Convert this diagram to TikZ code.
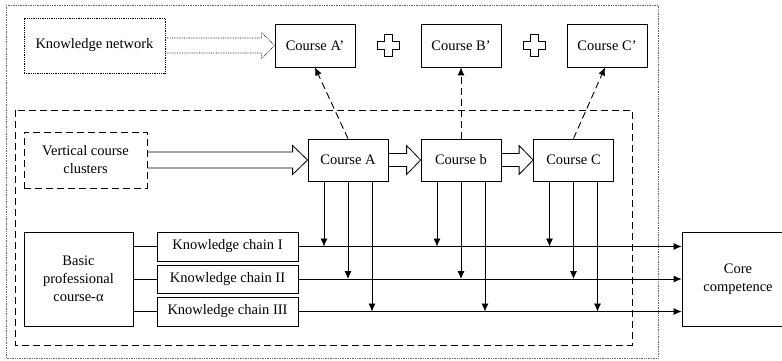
\documentclass[tikz,border=0pt]{standalone}
\usepackage{fontspec}
\setmainfont{Liberation Serif}
\usetikzlibrary{arrows.meta,calc}
\newcommand\hollowarr[6]{%
  \draw[#1] ($(#2.east)+(0,-#4)$) -- ($(#3.west)+(-#6,-#4)$) -- ($(#3.west)+(-#6,-#5)$)
    -- (#3.west) -- ($(#3.west)+(-#6,#5)$) -- ($(#3.west)+(-#6,#4)$) -- ($(#2.east)+(0,#4)$);}
\newcommand\plussign[1]{%
  \draw[line width=0.8pt] ($#1+(-4,-11)$) -- ++(8,0) -- ++(0,7) -- ++(7,0) -- ++(0,8) -- ++(-7,0)
    -- ++(0,7) -- ++(-8,0) -- ++(0,-7) -- ++(-7,0) -- ++(0,-8) -- ++(7,0) -- cycle;}
\begin{document}
\begin{tikzpicture}[x=1pt,y=-1pt,
  font=\fontsize{14.5}{18}\selectfont,
  box/.style={draw, line width=0.8pt, inner sep=0pt, align=center},
  dotbox/.style={box, densely dotted, line width=0.7pt},
  dashbox/.style={box, dash pattern=on 7pt off 4pt, line width=0.9pt},
  arr/.style={line width=0.8pt, -{Latex[length=8pt,width=7pt]}},
  darr/.style={line width=0.9pt, dash pattern=on 7pt off 4pt, -{Latex[length=8pt,width=7pt]}},
  ln/.style={line width=0.8pt}]
\useasboundingbox (0,0) rectangle (782,360);
% frames
\draw[densely dotted, line width=0.7pt, gray!80!black] (6,5) rectangle (658,358);
\draw[dash pattern=on 7pt off 4pt, line width=0.9pt] (15,110) rectangle (632,345);
% top row
\node[dotbox, minimum width=141pt, minimum height=55pt] (kn) at (94.5,45.5) {Knowledge network};
\node[box, minimum width=80pt, minimum height=43pt] (ca1) at (315,45.5) {Course A’};
\node[box, minimum width=80pt, minimum height=43pt] (cb1) at (461,45.5) {Course B’};
\node[box, minimum width=80pt, minimum height=43pt] (cc1) at (607,45.5) {Course C’};
\plussign{(388,45.5)}
\plussign{(534,45.5)}
% middle row
\node[dashbox, minimum width=123pt, minimum height=56pt] (vc) at (85.5,160) {Vertical course\\clusters};
\node[box, minimum width=80pt, minimum height=42pt] (ca) at (348,160) {Course A};
\node[box, minimum width=80pt, minimum height=42pt] (cb) at (461,160) {Course b};
\node[box, minimum width=80pt, minimum height=42pt] (cc) at (573.5,160) {Course C};
% bottom
\node[box, minimum width=109pt, minimum height=94pt] (bp) at (78.5,279) {Basic\\professional\\course-α};
\node[box, minimum width=141pt, minimum height=29pt] (k1) at (227.5,246.5) {Knowledge chain I};
\node[box, minimum width=141pt, minimum height=28pt] (k2) at (227.5,279) {Knowledge chain II};
\node[box, minimum width=141pt, minimum height=29pt] (k3) at (227.5,311.5) {Knowledge chain III};
\node[box, minimum width=112pt, minimum height=94pt] (core) at (738,279) {Core\\competence};
% hollow arrows
\hollowarr{densely dotted, line width=0.7pt}{kn}{ca1}{7.5}{13}{13}
\hollowarr{line width=0.8pt}{vc}{ca}{8}{14.5}{15}
\hollowarr{line width=0.8pt}{ca}{cb}{6.5}{14.5}{14}
\hollowarr{line width=0.8pt}{cb}{cc}{6.5}{14.5}{14}
% dashed arrows up
\draw[darr] (ca.north) -- (ca1.south);
\draw[darr] (cb.north) -- (cb1.south);
\draw[darr] (cc.north) -- ($(cc1.south)+(-2,0)$);
% basic to chains
\foreach \k in {k1,k2,k3} \draw[ln] (bp.east |- \k.west) -- (\k.west);
% chains to core
\foreach \k in {k1,k2,k3} \draw[arr] (\k.east) -- (core.west |- \k.east);
% vertical arrows
\foreach \c in {ca,cb,cc} {
  \draw[arr] ($(\c.south)+(-24,0)$) coordinate (t1) -- (t1 |- k1.east);
  \draw[arr] ($(\c.south)+(0,0)$) coordinate (t2) -- (t2 |- k2.east);
  \draw[arr] ($(\c.south)+(24,0)$) coordinate (t3) -- (t3 |- k3.east);
}
\end{tikzpicture}
\end{document}
